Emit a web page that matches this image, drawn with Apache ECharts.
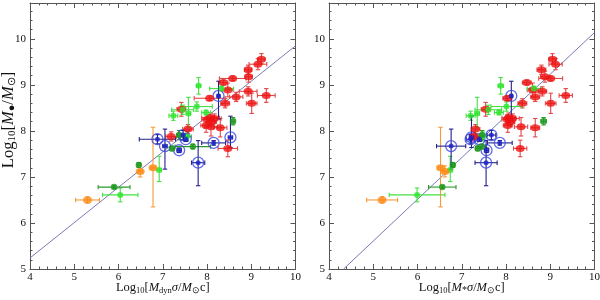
<!DOCTYPE html>
<html><head><meta charset="utf-8">
<script src="https://cdn.jsdelivr.net/npm/echarts@6/dist/echarts.min.js"></script>
<style>html,body{margin:0;padding:0;background:#fff}#c{width:600px;height:300px}</style>
</head><body><div id="c"></div>
<script>
// rows: [y, eyLo, eyHi, xLeft, exLeft, xRight, exRight]
const red = [
  [9.56,0.10,0.12,9.23,0.08,9.05,0.08],
  [9.45,0.12,0.12,9.15,0.20,9.12,0.15],
  [9.33,0.10,0.10,8.93,0.08,8.80,0.10],
  [9.18,0.12,0.12,8.94,0.08,8.88,0.10],
  [9.14,0.05,0.05,8.58,0.30,9.01,0.27],
  [9.05,0.05,0.05,8.37,0.10,8.47,0.10],
  [8.89,0.15,0.15,8.47,0.12,8.60,0.12],
  [8.86,0.10,0.10,8.93,0.20,8.82,0.10],
  [8.74,0.10,0.10,8.66,0.15,8.66,0.10],
  [8.77,0.15,0.15,9.34,0.20,9.35,0.15],
  [8.71,0.05,0.05,8.06,0.35,8.03,0.10],
  [8.60,0.10,0.10,8.41,0.10,8.37,0.10],
  [8.60,0.22,0.22,9.01,0.12,9.01,0.12],
  [8.47,0.15,0.15,7.42,0.10,7.54,0.10],
  [8.29,0.10,0.10,8.08,0.20,8.06,0.15],
  [8.27,0.10,0.10,8.17,0.15,8.15,0.15],
  [8.25,0.10,0.10,8.00,0.12,8.03,0.12],
  [8.20,0.10,0.10,8.11,0.10,8.10,0.10],
  [8.12,0.15,0.15,7.98,0.12,8.04,0.10],
  [8.09,0.20,0.20,8.09,0.15,8.34,0.15],
  [8.07,0.20,0.20,8.30,0.15,8.66,0.10],
  [8.04,0.10,0.10,7.57,0.12,7.31,0.10],
  [7.88,0.10,0.10,7.19,0.12,7.28,0.10],
  [7.62,0.18,0.18,8.47,0.22,8.32,0.15]
];
const lime = [
  [8.98,0.18,0.18,7.81,0.05,7.88,0.06],
  [8.92,0.05,0.05,8.33,0.27,8.63,0.15],
  [8.53,0.10,0.10,7.77,0.35,8.01,0.35],
  [8.40,0.05,0.05,7.98,0.10,7.84,0.10],
  [8.38,0.30,0.35,7.58,0.05,7.35,0.05],
  [8.33,0.10,0.10,7.24,0.10,7.20,0.10],
  [8.46,0.10,0.10,7.45,0.25,7.60,0.30],
  [7.88,0.10,0.10,7.55,0.10,7.47,0.10],
  [7.15,0.25,0.30,6.92,0.05,6.74,0.05],
  [6.61,0.15,0.15,6.04,0.40,5.99,0.63]
];
const darkGreen = [
  [8.21,0.08,0.08,8.59,0.04,8.85,0.06],
  [7.91,0.10,0.10,7.37,0.05,7.46,0.05],
  [7.66,0.05,0.05,7.68,0.40,7.45,0.10],
  [7.62,0.05,0.05,7.21,0.05,7.36,0.05],
  [7.26,0.05,0.05,6.46,0.04,6.80,0.04],
  [6.78,0.03,0.03,5.90,0.36,6.56,0.31]
];
const orange = [
  [6.50,0.07,0.07,5.30,0.27,5.20,0.35],
  [7.20,0.85,0.88,6.78,0.05,6.52,0.05],
  [7.12,0.12,0.12,6.49,0.05,6.62,0.05]
];
const blue = [
  [8.76,0.50,0.32,8.26,0.03,8.12,0.03],
  [7.82,0.10,0.10,6.88,0.41,7.20,0.10],
  [7.67,0.50,0.37,7.05,0.05,6.76,0.33],
  [7.91,0.10,0.10,7.46,0.05,7.67,0.10],
  [7.58,0.05,0.05,7.37,0.05,7.56,0.05],
  [7.31,0.50,0.48,7.80,0.15,7.55,0.25],
  [7.74,0.05,0.05,8.15,0.27,7.86,0.28],
  [7.86,0.22,0.46,8.53,0.05,7.22,0.05],
  [7.82,0.05,0.05,7.52,0.05,7.40,0.05]
];
const fitLeft = [[4, 5.24], [10, 9.85]];
const fitRight = [[4.33, 5.0], [10, 10.14]];
const xTicks = [4, 5, 6, 7, 8, 9, 10];
const yTicks = [5, 6, 7, 8, 9, 10];
const yTop = 10.78;

const groups = [
  {rows: red, fill: '#ee1111', err: '#e24848', size: [9, 7]},
  {rows: lime, fill: '#2ee62e', err: '#44e044', size: 6},
  {rows: darkGreen, fill: '#1e981e', err: '#2a9a2a', size: 6.5},
  {rows: orange, fill: '#ff8a14', err: '#f59a3a', size: [9, 7]},
  {rows: blue, fill: '#1a22cc', err: '#22228a', size: 5, ring: true}
];

function errRender(color) {
  return function (params, api) {
    const x = api.value(0), y = api.value(1), ex = api.value(2), lo = api.value(3), hi = api.value(4);
    const xl = api.coord([x - ex, y]), xr = api.coord([x + ex, y]);
    const yb = api.coord([x, y - lo]), yt = api.coord([x, y + hi]);
    const cap = 2.2;
    const segs = [
      [xl[0], xl[1], xr[0], xr[1]],
      [yb[0], yb[1], yt[0], yt[1]],
      [xl[0], xl[1] - cap, xl[0], xl[1] + cap],
      [xr[0], xr[1] - cap, xr[0], xr[1] + cap],
      [yb[0] - cap, yb[1], yb[0] + cap, yb[1]],
      [yt[0] - cap, yt[1], yt[0] + cap, yt[1]]
    ];
    return {type: 'group', children: segs.map(s => ({
      type: 'line', shape: {x1: s[0], y1: s[1], x2: s[2], y2: s[3]},
      style: {stroke: color, lineWidth: 1.1}
    }))};
  };
}

const serif = 'Liberation Serif, Times New Roman, serif';
const rich = {
  n: {fontFamily: serif, fontSize: 12.5, lineHeight: 15, color: '#111'},
  i: {fontFamily: serif, fontSize: 12.5, lineHeight: 15, fontStyle: 'italic', color: '#111'},
  s: {fontFamily: serif, fontSize: 8.5, lineHeight: 8, verticalAlign: 'bottom', color: '#111'},
  si: {fontFamily: serif, fontSize: 10, lineHeight: 8, verticalAlign: 'bottom', color: '#111'}
};
const richY = {
  n: {fontFamily: serif, fontSize: 16.5, lineHeight: 18, color: '#111'},
  i: {fontFamily: serif, fontSize: 16.5, lineHeight: 18, fontStyle: 'italic', color: '#111'},
  s: {fontFamily: serif, fontSize: 11, lineHeight: 8, verticalAlign: 'bottom', color: '#111'}
};
const xNames = [
  '{n|Log}{s|10}{n|[}{i|M}{s|dyn}{i|σ}{n|/}{i|M}{s|⊙}{n|c]}',
  '{n|Log}{s|10}{n|[}{i|M}{si|*}{i|σ}{n|/}{i|M}{s|⊙}{n|c]}'
];
const yName = '{n|Log}{s|10}{n|[}{i|M}{s|●}{n|/}{i|M}{s|⊙}{n|]}';

const axisCol = '#555';
function xAxisCfg(g, top) {
  return {
    type: 'value', gridIndex: g, min: xTicks[0], max: xTicks[xTicks.length - 1], interval: 1,
    position: top ? 'top' : 'bottom',
    axisLine: {show: true, lineStyle: {color: axisCol, width: 1}},
    axisTick: {show: true, inside: true, length: 5, lineStyle: {color: axisCol}},
    minorTick: {show: true, splitNumber: 5, length: 2.5, lineStyle: {color: axisCol}},
    axisLabel: {show: !top, margin: 3, fontFamily: serif, fontSize: 11, color: '#111'},
    splitLine: {show: false},
    name: top ? '' : xNames[g], nameLocation: 'middle', nameGap: 11, nameMoveOverlap: false,
    nameTextStyle: {rich: rich}
  };
}
function yAxisCfg(g, right) {
  return {
    type: 'value', gridIndex: g, min: yTicks[0], max: yTop, interval: 1,
    position: right ? 'right' : 'left',
    axisLine: {show: true, lineStyle: {color: axisCol, width: 1}},
    axisTick: {show: true, inside: true, length: 5, lineStyle: {color: axisCol}},
    minorTick: {show: true, splitNumber: 5, length: 2.5, lineStyle: {color: axisCol}},
    axisLabel: {show: !right, margin: 4, fontFamily: serif, fontSize: 11, color: '#111',
      formatter: v => yTicks.indexOf(v) >= 0 ? String(v) : ''},
    splitLine: {show: false},
    name: (!right && g === 0) ? yName : '', nameLocation: 'middle', nameGap: 12, nameRotate: 90,
    nameMoveOverlap: false,
    nameTextStyle: {rich: richY, padding: [0, 0, 0, 32]}
  };
}

const series = [];
[0, 1].forEach(g => {
  const xi = g === 0 ? 3 : 5, ei = g === 0 ? 4 : 6;
  const axes = {xAxisIndex: g * 2, yAxisIndex: g * 2};
  series.push(Object.assign({
    type: 'line', data: g === 0 ? fitLeft : fitRight, symbol: 'none', silent: true,
    lineStyle: {color: '#6a6aae', width: 0.9}, z: 1
  }, axes));
  groups.forEach(gr => {
    series.push(Object.assign({
      type: 'custom', renderItem: errRender(gr.err), z: 2, silent: true,
      encode: {x: 0, y: 1},
      data: gr.rows.map(r => [r[xi], r[0], r[ei], r[1], r[2]])
    }, axes));
  });
  groups.forEach(gr => {
    const pts = gr.rows.map(r => [r[xi], r[0]]);
    if (gr.ring) {
      series.push(Object.assign({
        type: 'scatter', data: pts, symbol: 'circle', symbolSize: 11, z: 3, silent: true,
        itemStyle: {color: 'rgba(0,0,0,0)', borderColor: '#3a46e0', borderWidth: 1.3}
      }, axes));
    }
    series.push(Object.assign({
      type: 'scatter', data: pts, symbol: 'circle', symbolSize: gr.size, z: 4, silent: true,
      itemStyle: {color: gr.fill}
    }, axes));
  });
});

const chart = echarts.init(document.getElementById('c'), null, {renderer: 'canvas'});
chart.setOption({
  animation: false,
  backgroundColor: '#fff',
  grid: [
    {left: 30, right: 304.5, top: 3, bottom: 31, containLabel: false, outerBoundsMode: 'none'},
    {left: 329, right: 5.5, top: 3, bottom: 31, containLabel: false, outerBoundsMode: 'none'}
  ],
  xAxis: [xAxisCfg(0, false), xAxisCfg(0, true), xAxisCfg(1, false), xAxisCfg(1, true)],
  yAxis: [yAxisCfg(0, false), yAxisCfg(0, true), yAxisCfg(1, false), yAxisCfg(1, true)],
  series: series
});
</script>
</body></html>
